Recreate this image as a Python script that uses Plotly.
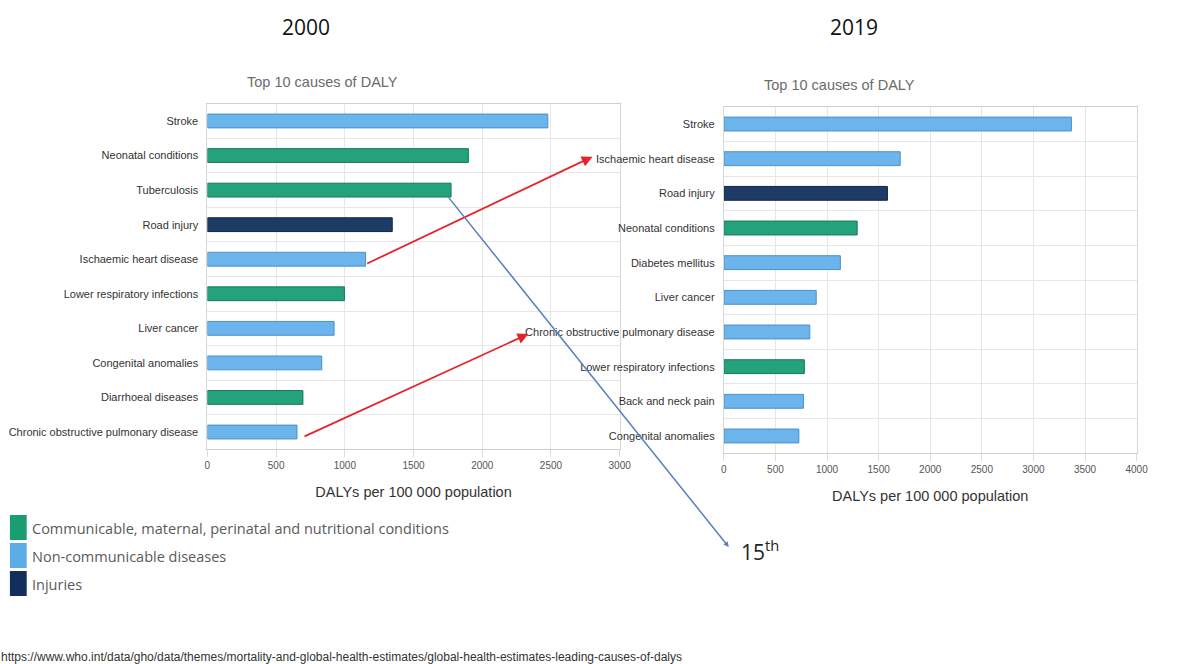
import plotly.graph_objects as go

W, H = 1197, 664

# ---- data -------------------------------------------------------------
causes_2000 = [
    "Stroke", "Neonatal conditions", "Tuberculosis", "Road injury",
    "Ischaemic heart disease", "Lower respiratory infections", "Liver cancer",
    "Congenital anomalies", "Diarrhoeal diseases",
    "Chronic obstructive pulmonary disease",
]
dalys_2000 = [2477, 1899, 1773, 1345, 1151, 997, 922, 832, 695, 652]
group_2000 = ["ncd", "cmpn", "cmpn", "inj", "ncd", "cmpn", "ncd", "ncd", "cmpn", "ncd"]

causes_2019 = [
    "Stroke", "Ischaemic heart disease", "Road injury", "Neonatal conditions",
    "Diabetes mellitus", "Liver cancer", "Chronic obstructive pulmonary disease",
    "Lower respiratory infections", "Back and neck pain", "Congenital anomalies",
]
dalys_2019 = [3368, 1709, 1585, 1292, 1129, 895, 833, 780, 771, 727]
group_2019 = ["ncd", "ncd", "inj", "cmpn", "ncd", "ncd", "ncd", "cmpn", "ncd", "ncd"]

x_ticks_2000 = [0, 500, 1000, 1500, 2000, 2500, 3000]
x_ticks_2019 = [0, 500, 1000, 1500, 2000, 2500, 3000, 3500, 4000]

group_names = {
    "cmpn": "Communicable, maternal, perinatal and nutritional conditions",
    "ncd": "Non-communicable diseases",
    "inj": "Injuries",
}
group_order = ["cmpn", "ncd", "inj"]

# ---- styling ----------------------------------------------------------
fill = {"cmpn": "#23a27b", "ncd": "#6cb4ec", "inj": "#1e3b66"}
edge = {"cmpn": "#15795a", "ncd": "#4a8fca", "inj": "#0f2547"}
swatch = {"cmpn": "#1a9d70", "ncd": "#5cade6", "inj": "#112e5c"}

LABEL_FONT = "Liberation Sans, Arial, sans-serif"
TEXT_FONT = "Open Sans, sans-serif"

# subplot domains (paper fractions)
X1 = [207 / W, 624.5 / W]
Y1 = [1 - 449.3 / H, 1 - 103.7 / H]
X2 = [730 / W, 1148 / W]
Y2 = [1 - 453.3 / H, 1 - 106.7 / H]
XMAX1, XMAX2 = 3000, 4000
N = 10


def to_paper(val, idx, xdom, ydom, xmax):
    px = xdom[0] + val / xmax * (xdom[1] - xdom[0])
    py = ydom[1] - (idx + 0.5) / N * (ydom[1] - ydom[0])
    return px, py


fig = go.Figure()

for causes, vals, groups, xa, ya in [
    (causes_2000, dalys_2000, group_2000, "x", "y"),
    (causes_2019, dalys_2019, group_2019, "x2", "y2"),
]:
    fig.add_trace(go.Bar(
        y=causes, x=vals, orientation="h", xaxis=xa, yaxis=ya,
        width=0.4,
        marker=dict(color=[fill[g] for g in groups],
                    line=dict(color=[edge[g] for g in groups], width=1)),
        showlegend=False, hoverinfo="x+y",
    ))

grid = "#e6e6e6"
common_x = dict(
    showgrid=True, gridcolor=grid, gridwidth=1, zeroline=False,
    showline=True, linecolor="#cfcfcf", linewidth=1, mirror=True,
    ticks="outside", ticklen=7, tickcolor="#dcdcdc",
    tickfont=dict(family=LABEL_FONT, size=10, color="#555"),
    title=dict(text="DALYs per 100 000 population",
               font=dict(family=LABEL_FONT, size=14.5, color="#333"), standoff=16),
)
common_y = dict(
    type="category", tickson="boundaries", showgrid=True, gridcolor=grid,
    showline=True, linecolor="#d6d6d6", mirror=True, ticks="",
    ticklabelstandoff=6,
    tickfont=dict(family=LABEL_FONT, size=11, color="#333"),
    range=[N - 0.5, -0.5], fixedrange=True,
)

fig.update_layout(
    width=W, height=H, autosize=False, margin=dict(l=0, r=0, t=0, b=0),
    paper_bgcolor="white", plot_bgcolor="white",
    xaxis=dict(domain=X1, anchor="y", range=[0, XMAX1], tickvals=x_ticks_2000, **common_x),
    yaxis=dict(domain=Y1, anchor="x", categoryorder="array", categoryarray=causes_2000, **common_y),
    xaxis2=dict(domain=X2, anchor="y2", range=[0, XMAX2], tickvals=x_ticks_2019, **common_x),
    yaxis2=dict(domain=Y2, anchor="x2", categoryorder="array", categoryarray=causes_2019, **common_y),
)

ann = []
# year headings and chart titles
for txt, cx, cy in [("2000", 307, 27), ("2019", 862, 27)]:
    ann.append(dict(text=txt, x=cx / W, y=1 - cy / H, xref="paper", yref="paper",
                    showarrow=False, xanchor="center", yanchor="middle",
                    font=dict(family=TEXT_FONT, size=21, color="#111")))
for cx, cy in [(324, 82), (847, 85)]:
    ann.append(dict(text="Top 10 causes of DALY", x=cx / W, y=1 - cy / H,
                    xref="paper", yref="paper", showarrow=False,
                    xanchor="center", yanchor="middle",
                    font=dict(family=LABEL_FONT, size=14.5, color="#6b6b6b")))


def arrow(tail, head, color, width, size, style):
    return dict(x=head[0], y=head[1], xref="paper", yref="paper",
                ax=(tail[0] - head[0]) * W, ay=(head[1] - tail[1]) * H,
                axref="pixel", ayref="pixel", text="", showarrow=True,
                arrowhead=style, arrowsize=size, arrowwidth=width, arrowcolor=color)


# rank changes between 2000 and 2019
i_ihd0, i_ihd1 = causes_2000.index("Ischaemic heart disease"), causes_2019.index("Ischaemic heart disease")
i_copd0, i_copd1 = (causes_2000.index("Chronic obstructive pulmonary disease"),
                    causes_2019.index("Chronic obstructive pulmonary disease"))
i_tb = causes_2000.index("Tuberculosis")

t = to_paper(dalys_2000[i_ihd0], i_ihd0, X1, Y1, XMAX1)
h = to_paper(0, i_ihd1, X2, Y2, XMAX2)
ann.append(arrow((t[0] + 3 / W, t[1] - 5 / H), (h[0] - 133 / W, h[1] + 2 / H), "#e3242b", 1.8, 1.2, 2))

t = to_paper(dalys_2000[i_copd0], i_copd0, X1, Y1, XMAX1)
h = to_paper(0, i_copd1, X2, Y2, XMAX2)
ann.append(arrow((t[0] + 9 / W, t[1] - 5 / H), (h[0] - 198 / W, h[1] - 2 / H), "#e3242b", 1.8, 1.2, 2))

t = to_paper(dalys_2000[i_tb], i_tb, X1, Y1, XMAX1)
ann.append(arrow((t[0], t[1] - 6 / H), (735 / W, 1 - 547 / H), "#5a7fc0", 1.5, 0.7, 2))
ann.append(dict(text="15<sup>th</sup>", x=745 / W, y=1 - 550 / H, xref="paper", yref="paper",
                showarrow=False, xanchor="left", yanchor="middle",
                font=dict(family=TEXT_FONT, size=21, color="#222")))

# category key
shapes = []
top = 515
for k, g in enumerate(group_order):
    y0 = top + k * 28
    shapes.append(dict(type="rect", xref="paper", yref="paper",
                       x0=7 / W, x1=24 / W, y0=1 - (y0 + 25) / H, y1=1 - y0 / H,
                       fillcolor=swatch[g], line=dict(width=0)))
    ann.append(dict(text=group_names[g], x=27 / W, y=1 - (y0 + 13) / H,
                    xref="paper", yref="paper", showarrow=False,
                    xanchor="left", yanchor="middle",
                    font=dict(family=TEXT_FONT, size=14.5, color="#5a5a5a")))

ann.append(dict(
    text="https://www.who.int/data/gho/data/themes/mortality-and-global-health-estimates/global-health-estimates-leading-causes-of-dalys",
    x=-4 / W, y=1 - 657 / H, xref="paper", yref="paper", showarrow=False,
    xanchor="left", yanchor="middle",
    font=dict(family=LABEL_FONT, size=12, color="#333")))

fig.update_layout(annotations=ann, shapes=shapes)

# the page holds only the figure: no body margin, no scrollbars
page_css = """
document.documentElement.style.margin = '0';
document.documentElement.style.overflow = 'hidden';
document.body.style.margin = '0';
document.body.style.overflow = 'hidden';
"""

fig.write_html("out.html", config={"responsive": False}, post_script=page_css)
